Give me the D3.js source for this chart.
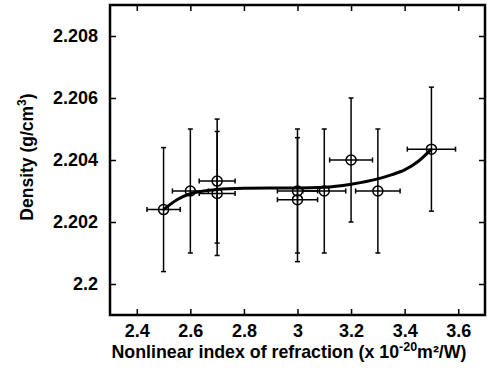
<!DOCTYPE html>
<html>
<head>
<script src="https://d3js.org/d3.v7.min.js"></script>
<style>
  body { margin: 0; background: #fff; }
  text { font-family: "Liberation Sans", Arial, sans-serif; font-weight: bold; fill: #000; }
</style>
</head>
<body>
<script>
// measured points
const xVals = [2.5, 2.6, 2.7, 2.7, 3.0, 3.0, 3.1, 3.2, 3.3, 3.5];
const yVals = [2.2024, 2.2030, 2.20332, 2.20292, 2.2030, 2.20272, 2.2030, 2.2040, 2.2030, 2.20435];
const xErr = [0.062, 0.067, 0.067, 0.067, 0.075, 0.075, 0.08, 0.08, 0.083, 0.09];
const yErr = [0.002, 0.002, 0.002, 0.002, 0.002, 0.002, 0.002, 0.002, 0.002, 0.002];

// fitted curve
const fitX = [2.5, 2.55, 2.6, 2.65, 2.7, 2.8, 2.9, 3.0, 3.1, 3.2, 3.3, 3.35, 3.4, 3.45, 3.5];
const fitY = [2.2024, 2.20272, 2.20291, 2.20300, 2.20305, 2.20309, 2.2031, 2.2031, 2.20312, 2.20322, 2.20339, 2.20352, 2.20368, 2.20395, 2.20435];

const xTicks = [2.4, 2.6, 2.8, 3.0, 3.2, 3.4, 3.6];
const xTickLabels = ["2.4", "2.6", "2.8", "3", "3.2", "3.4", "3.6"];
const yTicks = [2.200, 2.202, 2.204, 2.206, 2.208];
const yTickLabels = ["2.2", "2.202", "2.204", "2.206", "2.208"];

const width = 487, height = 375;
const margin = {top: 5, right: 2, bottom: 60, left: 110};

const svg = d3.select("body").append("svg")
    .attr("width", width)
    .attr("height", height);

const x = d3.scaleLinear().domain([2.3, 3.7]).range([margin.left, width - margin.right]);
const y = d3.scaleLinear().domain([2.199, 2.209]).range([height - margin.bottom, margin.top]);

const tickLen = 6;

// axes, ticks pointing inward
const gx = svg.append("g")
    .attr("transform", `translate(0,${height - margin.bottom})`)
    .call(d3.axisBottom(x).tickValues(xTicks).tickFormat((d, i) => xTickLabels[i]).tickSize(-tickLen).tickPadding(9));
const gy = svg.append("g")
    .attr("transform", `translate(${margin.left},0)`)
    .call(d3.axisLeft(y).tickValues(yTicks).tickFormat((d, i) => yTickLabels[i]).tickSize(-tickLen).tickPadding(12));
const gxt = svg.append("g")
    .attr("transform", `translate(0,${margin.top})`)
    .call(d3.axisTop(x).tickValues(xTicks).tickFormat("").tickSize(-tickLen));
const gyr = svg.append("g")
    .attr("transform", `translate(${width - margin.right},0)`)
    .call(d3.axisRight(y).tickValues(yTicks).tickFormat("").tickSize(-tickLen));

[gx, gy, gxt, gyr].forEach(g => {
    g.select(".domain").remove();
    g.selectAll(".tick line").attr("stroke", "#000").attr("stroke-width", 1.5);
    g.selectAll(".tick text").style("font-size", "18px").attr("fill", "#000");
});

// frame
svg.append("rect")
    .attr("x", margin.left)
    .attr("y", margin.top)
    .attr("width", width - margin.left - margin.right)
    .attr("height", height - margin.top - margin.bottom)
    .attr("fill", "none")
    .attr("stroke", "#000")
    .attr("stroke-width", 2.5);

// fit curve
const line = d3.line()
    .x((d, i) => x(fitX[i]))
    .y((d, i) => y(fitY[i]))
    .curve(d3.curveMonotoneX);
svg.append("path")
    .datum(fitX)
    .attr("d", line)
    .attr("fill", "none")
    .attr("stroke", "#000")
    .attr("stroke-width", 3);

// error bars
const cap = 2.5;
const pts = xVals.map((v, i) => ({x: v, y: yVals[i], ex: xErr[i], ey: yErr[i]}));
const eb = svg.append("g").attr("stroke", "#000").attr("stroke-width", 1.5);
pts.forEach(d => {
    const cx = x(d.x), cy = y(d.y);
    const top = y(d.y + d.ey), bot = y(d.y - d.ey);
    const lft = x(d.x - d.ex), rgt = x(d.x + d.ex);
    eb.append("line").attr("x1", cx).attr("x2", cx).attr("y1", top).attr("y2", bot);
    eb.append("line").attr("x1", cx - cap).attr("x2", cx + cap).attr("y1", top).attr("y2", top);
    eb.append("line").attr("x1", cx - cap).attr("x2", cx + cap).attr("y1", bot).attr("y2", bot);
    eb.append("line").attr("x1", lft).attr("x2", rgt).attr("y1", cy).attr("y2", cy);
    eb.append("line").attr("x1", lft).attr("x2", lft).attr("y1", cy - cap).attr("y2", cy + cap);
    eb.append("line").attr("x1", rgt).attr("x2", rgt).attr("y1", cy - cap).attr("y2", cy + cap);
});

// markers
svg.append("g").selectAll("circle")
    .data(pts)
    .join("circle")
    .attr("cx", d => x(d.x))
    .attr("cy", d => y(d.y))
    .attr("r", 5)
    .attr("fill", "none")
    .attr("stroke", "#000")
    .attr("stroke-width", 1.5);

// axis titles
const xl = svg.append("text")
    .attr("x", 289)
    .attr("y", 358)
    .attr("text-anchor", "middle")
    .style("font-size", "17.8px");
xl.append("tspan").text("Nonlinear index of refraction (x 10");
xl.append("tspan").attr("dy", -7).style("font-size", "12.5px").text("-20");
xl.append("tspan").attr("dy", 7).text("m\u00B2/W)");

const yl = svg.append("text")
    .attr("transform", "translate(33,157) rotate(-90)")
    .attr("text-anchor", "middle")
    .style("font-size", "17.5px");
yl.append("tspan").text("Density (g/cm");
yl.append("tspan").attr("dy", -7).style("font-size", "12px").text("3");
yl.append("tspan").attr("dy", 7).text(")");
</script>
</body>
</html>
